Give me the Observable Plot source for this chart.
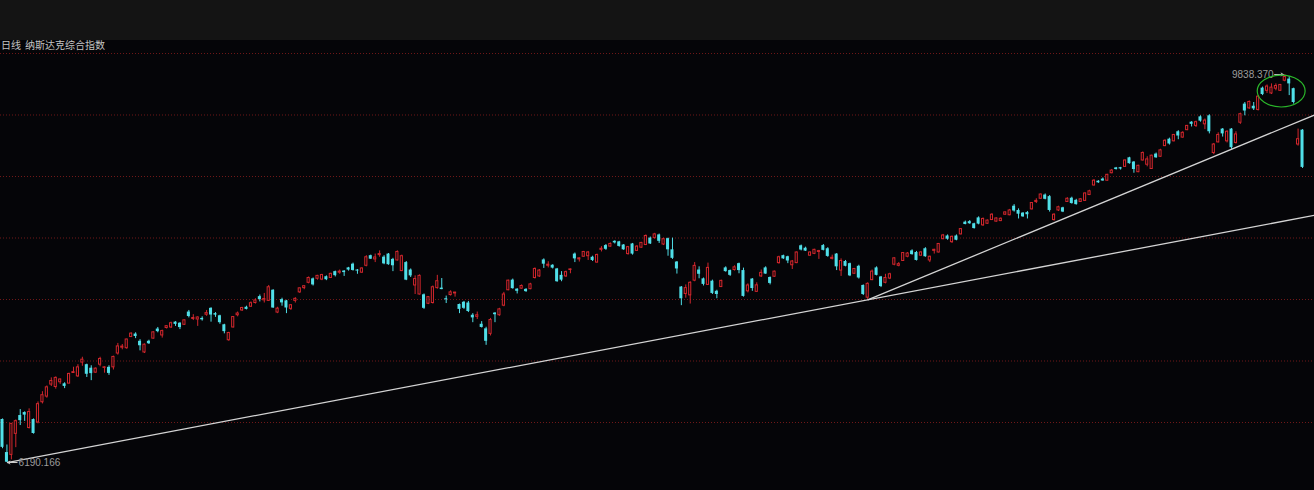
<!DOCTYPE html>
<html><head><meta charset="utf-8">
<script src="https://cdn.jsdelivr.net/npm/d3@7"></script>
<script src="https://cdn.jsdelivr.net/npm/@observablehq/plot@0.6"></script>
<style>
html,body{margin:0;padding:0;background:#050508;overflow:hidden;}
#wrap{position:relative;width:1314px;height:490px;overflow:hidden;}
#band{position:absolute;left:0;top:0;width:1314px;height:40px;background:#141414;}
#title{position:absolute;left:1px;top:38px;font-size:10px;font-family:"Noto Sans CJK SC",sans-serif;color:#c4c4c4;white-space:nowrap;line-height:14px;}
#chart{position:absolute;left:0;top:40px;}
</style></head><body>
<div id="wrap"><div id="band"></div><div id="chart"></div><div id="title"><span>日线</span><span style="margin-left:4px">纳斯达克综合指数</span></div></div>
<script>
const opens = [6595,6284,6262,6460,6632,6660,6515,6594,6567,6757,
6810,6923,6900,6945,6930,6932,7032,7000,7130,7110,
7077,7035,7110,7080,7085,7085,7215,7270,7265,7370,
7398,7330,7225,7330,7355,7445,7385,7455,7460,7510,
7500,7485,7605,7540,7535,7545,7580,7640,7590,7570,
7485,7340,7460,7575,7620,7650,7655,7690,7750,7715,
7710,7810,7600,7722,7710,7635,7710,7790,7830,7880,
7917,7918,7910,7937,7925,7985,7975,7990,8020,8055,
8000,7975,8040,8135,8100,8140,8121,8150,8100,8090,
7990,8070,8000,7855,7770,7767,7683,7690,7830,7830,
7730,7765,7780,7676,7697,7690,7575,7560,7490,7447,
7400,7595,7575,7665,7810,7905,7820,7825,7818,7820,
7925,7940,8095,8040,8045,8010,7950,7940,8000,8150,
8100,8125,8130,8120,8070,8190,8230,8220,8270,8265,
8235,8150,8245,8180,8210,8235,8300,8300,8330,8240,
8295,8190,8075,7840,7775,7762,7900,8000,7917,7860,
7895,7800,7840,8020,7995,8000,8060,7995,7800,7915,
7795,7940,8020,7930,7937,8065,8135,8125,8045,8065,
8228,8205,8135,8152,8170,8230,8200,8105,8150,7995,
8080,8060,7965,8035,7855,7740,7905,8020,7935,7880,
7920,8050,8040,8085,8125,8180,8165,8135,8200,8090,
8180,8165,8290,8320,8262,8320,8335,8450,8455,8435,
8490,8420,8435,8470,8455,8460,8520,8515,8600,8560,
8535,8540,8570,8640,8670,8705,8690,8470,8560,8585,
8640,8675,8655,8640,8650,8705,8795,8835,8855,8840,
8910,8960,8962,8970,9055,9015,8920,9030,8990,8950,
9090,9065,9165,9230,9210,9300,9245,9315,9390,9355,
9440,9370,9450,9100,9200,9325,9210,9325,9195,9385,
9560,9520,9540,9505,9710,9685,9660,9705,9685,9780,
9795,9705,9180,9315];

const highs = [6600,6355,6555,6590,6688,6667,6695,6600,6760,6856,
6910,6986,6995,6975,6940,7030,7086,7110,7180,7115,
7100,7080,7180,7090,7100,7190,7310,7300,7350,7410,
7410,7345,7305,7340,7420,7460,7435,7475,7510,7515,
7505,7530,7620,7580,7560,7560,7620,7645,7600,7575,
7490,7415,7560,7605,7650,7660,7700,7730,7765,7780,
7855,7815,7650,7735,7715,7675,7740,7830,7850,7935,
7925,7950,7960,7945,7970,7990,8000,7995,8025,8065,
8005,8020,8135,8140,8150,8180,8135,8155,8110,8180,
8140,8080,8010,7945,7955,7775,7750,7850,7950,7920,
7755,7805,7790,7680,7705,7705,7590,7605,7515,7462,
7545,7600,7640,7790,7905,7915,7825,7860,7825,7875,
8020,8005,8105,8078,8050,8015,7985,7990,8010,8160,
8115,8175,8175,8130,8150,8220,8240,8255,8275,8270,
8240,8222,8250,8230,8260,8330,8310,8345,8338,8300,
8300,8300,8080,7845,7860,7890,8070,8030,7925,8065,
7905,7810,7905,8030,8000,8040,8065,8018,7870,7920,
7880,8000,8030,7935,7990,8130,8140,8130,8090,8170,
8235,8215,8170,8195,8185,8240,8210,8140,8155,8105,
8090,8065,8015,8045,7860,7880,8000,8030,7940,7960,
7970,8115,8070,8165,8165,8190,8175,8175,8210,8130,
8195,8250,8335,8330,8320,8330,8390,8460,8465,8440,
8500,8490,8470,8530,8490,8490,8545,8570,8615,8575,
8540,8550,8635,8670,8715,8715,8700,8530,8600,8590,
8680,8685,8665,8670,8725,8750,8850,8840,8865,8900,
8945,8965,8965,9035,9060,9020,8985,9110,9065,9080,
9100,9135,9225,9240,9275,9310,9300,9360,9395,9400,
9450,9420,9460,9190,9290,9330,9310,9330,9300,9475,
9575,9590,9575,9640,9720,9740,9750,9750,9745,9838.37,
9820,9710,9325,9320];

const lows = [6320,6190.166,6215,6330,6538,6577,6505,6457,6554,6741,
6795,6905,6880,6925,6885,6931,7030,6990,7095,6990,
6960,7030,7090,7030,7010,7060,7200,7250,7255,7365,
7355,7240,7215,7300,7350,7410,7360,7445,7450,7470,
7440,7480,7550,7525,7470,7520,7565,7510,7555,7490,
7400,7330,7455,7560,7610,7625,7650,7680,7700,7690,
7705,7640,7590,7660,7590,7620,7690,7780,7815,7870,
7850,7905,7900,7900,7920,7935,7960,7940,7990,7990,
7960,7970,8030,8100,8070,8120,8050,8045,7985,8085,
7985,7900,7930,7770,7765,7630,7675,7680,7820,7815,
7685,7755,7745,7590,7630,7600,7505,7535,7455,7292,
7380,7505,7565,7655,7805,7820,7775,7820,7790,7815,
7915,7930,8015,8020,8010,7885,7890,7930,7965,8070,
8075,8120,8090,8080,8065,8170,8185,8215,8245,8215,
8185,8140,8140,8175,8205,8230,8240,8290,8250,8230,
8130,8100,7962,7665,7735,7680,7890,7918,7850,7855,
7770,7730,7835,7980,7940,7990,7965,7745,7785,7800,
7790,7930,7960,7860,7930,8055,8100,8060,8005,8060,
8180,8175,8130,8145,8100,8180,8120,8095,7995,7940,
8030,7938,7960,7915,7760,7720,7900,7945,7835,7870,
7910,8040,8030,8080,8115,8140,8085,8130,8120,8070,
8150,8160,8285,8280,8250,8275,8330,8425,8430,8385,
8425,8410,8430,8465,8450,8455,8515,8510,8545,8480,
8495,8480,8565,8625,8665,8660,8545,8460,8550,8540,
8635,8620,8610,8635,8645,8700,8790,8815,8835,8835,
8905,8940,8940,8965,8995,8910,8915,9025,8970,8945,
9050,9060,9160,9175,9205,9225,9240,9310,9345,9340,
9390,9320,9280,9085,9195,9250,9195,9135,9185,9370,
9450,9510,9500,9495,9640,9660,9650,9685,9680,9770,
9640,9560,9165,8955];

const closes = [6333,6193,6554,6579,6584,6636,6665,6463,6739,6823,
6897,6957,6986,6971,6906,7023,7040,7085,7157,7020,
7026,7073,7164,7085,7028,7183,7282,7280,7347,7402,
7375,7288,7298,7307,7414,7421,7426,7472,7500,7489,
7459,7527,7563,7549,7554,7532,7595,7577,7576,7505,
7421,7408,7558,7591,7643,7630,7688,7714,7723,7728,
7838,7643,7637,7691,7643,7669,7729,7828,7848,7925,
7860,7945,7953,7909,7964,7947,7985,7976,8000,7996,
7990,8015,8120,8102,8118,8150,8058,8050,8040,8170,
8130,7905,7945,7915,7945,7640,7745,7838,7895,7816,
7720,7790,7788,7630,7640,7610,7550,7575,7460,7330,
7530,7580,7630,7770,7900,7825,7800,7850,7797,7865,
8010,7995,8055,8050,8018,7890,7905,7980,8006,8105,
8110,8170,8165,8090,8141,8200,8195,8245,8255,8222,
8190,8215,8150,8220,8255,8320,8245,8335,8270,8290,
8190,8110,8010,7730,7830,7880,8039,7960,7865,8020,
7780,7770,7898,7985,7950,8025,7995,7752,7855,7826,
7856,7973,7962,7874,7985,8120,8105,8085,8080,8165,
8188,8178,8165,8190,8178,8185,8128,8115,8030,8085,
8035,7945,8010,7925,7770,7870,7985,7950,7845,7925,
7960,8110,8055,8160,8155,8145,8090,8165,8125,8125,
8190,8245,8325,8290,8312,8280,8385,8428,8435,8390,
8432,8480,8465,8520,8485,8482,8542,8560,8555,8525,
8500,8520,8630,8650,8710,8665,8560,8520,8590,8545,
8670,8625,8615,8665,8720,8740,8840,8820,8837,8895,
8935,8945,8950,9030,9000,8945,8980,9100,9040,9075,
9055,9125,9215,9185,9270,9260,9290,9355,9370,9390,
9400,9405,9300,9180,9270,9280,9300,9150,9275,9465,
9495,9580,9515,9630,9650,9725,9715,9730,9740,9815,
9750,9575,9230,8965];

// dotted horizontal guide levels (price)
const gridLevels = [10035.8, 9457.6, 8879.3, 8301.1, 7722.9, 7144.7, 6566.5];
// trend lines: pairs of candle indices whose lows the lines pass through
const trendAnchors = [[1, 195], [195, 277]];
const lowLabel = "6190.166";
const highLabel = "9838.370";
// green ring annotation: centre (candle index, price) and radii (index units, price units)
const ring = {i: 288.3, p: 9678, ri: 5.4, rp: 150};

const RED = "#d3272d", CYAN = "#50dfe8", BG = "#050508";
const xMin = -0.45, xMax = 295.7;

const candles = opens.map((o, i) => ({i, o, h: highs[i], l: lows[i], c: closes[i]}));
const up = candles.filter(d => d.c >= d.o);
const down = candles.filter(d => d.c < d.o);

const trend = trendAnchors.map(([a, b]) => {
  const s = (lows[b] - lows[a]) / (b - a);
  return {x1: a, y1: lows[a], x2: xMax, y2: lows[a] + s * (xMax - a)};
});

const lowIdx = lows.indexOf(d3.min(lows));
const highIdx = highs.indexOf(d3.max(highs));
const lowPt = [{i: lowIdx, p: lows[lowIdx], label: lowLabel}];
const highPt = [{i: highIdx, p: highs[highIdx], label: highLabel}];

const chart = Plot.plot({
  width: 1314, height: 450, margin: 0,
  x: {type: "linear", domain: [xMin, xMax], axis: null},
  y: {domain: [5927.2, 10158], axis: null},
  style: {background: "transparent", maxWidth: "none"},
  marks: [
    Plot.ruleY(gridLevels, {stroke: "#701818", strokeDasharray: "1,2"}),
    Plot.ruleX(down, {x: "i", y1: "l", y2: "h", stroke: CYAN}),
    Plot.ruleX(up, {x: "i", y1: "l", y2: "h", stroke: RED}),
    Plot.rect(down, {x1: d => d.i - 0.34, x2: d => d.i + 0.34, y1: "o", y2: "c", fill: CYAN}),
    Plot.rect(up, {x1: d => d.i - 0.24, x2: d => d.i + 0.24, y1: "o", y2: "c", fill: BG, stroke: RED, strokeWidth: 1}),
    Plot.link(trend, {x1: "x1", y1: "y1", x2: "x2", y2: "y2", stroke: "#d4d4d4", strokeWidth: 1.3}),
    Plot.arrow(lowPt, {x1: d => d.i + 2.3, x2: d => d.i + 0.15, y1: "p", y2: "p", stroke: "#cfcfcf", headLength: 4, strokeWidth: 1}),
    Plot.text(lowPt, {x: d => d.i + 2.4, y: "p", text: "label", textAnchor: "start", dx: 1, fill: "#9c9c9c", fontSize: 10, fontFamily: "Liberation Sans, Arial, sans-serif"}),
    Plot.arrow(highPt, {x1: d => d.i - 2.3, x2: d => d.i - 0.3, y1: "p", y2: "p", stroke: "#bdbdbd", headLength: 4, strokeWidth: 1}),
    Plot.text(highPt, {x: d => d.i - 2.5, y: "p", text: "label", textAnchor: "end", fill: "#9c9c9c", fontSize: 10, fontFamily: "Liberation Sans, Arial, sans-serif"})
  ]
});

const sx = chart.scale("x"), sy = chart.scale("y");
const cx = sx.apply(ring.i), cy = sy.apply(ring.p);
d3.select(chart).append("ellipse")
  .attr("cx", cx).attr("cy", cy)
  .attr("rx", sx.apply(ring.i + ring.ri) - cx)
  .attr("ry", sy.apply(ring.p - ring.rp) - cy)
  .attr("fill", "none").attr("stroke", "#2ab52a").attr("stroke-width", 1.2);

document.getElementById("chart").appendChild(chart);
</script>
</body></html>
